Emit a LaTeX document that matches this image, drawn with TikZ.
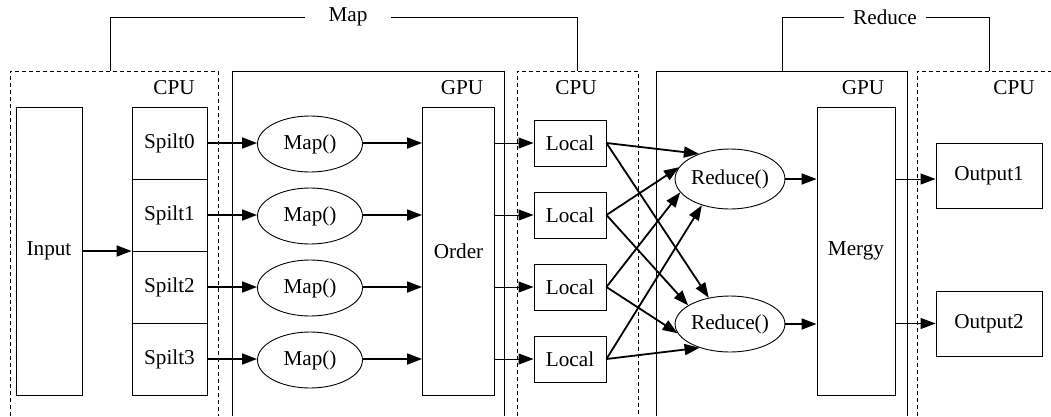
\documentclass[tikz,border=0pt]{standalone}
\usepackage{fontspec}
\setmainfont{Liberation Serif}
\usetikzlibrary{arrows.meta,shapes.geometric}
\begin{document}
\begin{tikzpicture}[x=1pt,y=-1pt,
  every node/.style={font=\fontsize{21.2}{25}\selectfont, inner sep=0pt},
  tallbox/.style={draw, line width=0.9pt, minimum width=#1, minimum height=288pt},
  cell/.style={draw, line width=0.9pt, minimum width=75pt, minimum height=72pt},
  smallbox/.style={draw, line width=0.9pt, minimum width=72pt, minimum height=46pt},
  outbox/.style={draw, line width=0.9pt, minimum width=106pt, minimum height=65pt},
  oval/.style={draw, ellipse, line width=0.9pt, minimum width=#1, minimum height=56pt},
  heavy/.style={line width=1.8pt, -{Triangle[length=15pt,width=11pt]}},
  light/.style={line width=1pt, -{Triangle[length=15pt,width=11pt]}},
  cpuline/.style={line width=0.9pt, dash pattern=on 4pt off 3pt},
  gpuline/.style={line width=0.9pt},
  bracket/.style={line width=0.9pt}
]
\useasboundingbox (0,0) rectangle (1051,416);

% containers
\draw[cpuline] (10,416) |- (218,71) -- (218,416);
\draw[gpuline] (232,416) |- (504,71) -- (504,416);
\draw[cpuline] (517,416) |- (638,71) -- (638,416);
\draw[gpuline] (656,416) |- (907,71) -- (907,416);
\draw[cpuline] (917,416) |- (1052,71);

\node (c1) at (174,88) {CPU};
\node (g1) at (462,88) {GPU};
\node (c2) at (576,88) {CPU};
\node (g2) at (863,88) {GPU};
\node (c3) at (1014,88) {CPU};

% brackets
\node[inner xsep=23pt] (maplbl) at (348,17) {Map};
\node[inner xsep=9pt] (redlbl) at (885,17) {Reduce};
\coordinate (mapA) at (110,71);
\coordinate (mapB) at (577,71);
\coordinate (redA) at (782,71);
\coordinate (redB) at (989,71);
\draw[bracket] (maplbl.west) -| (mapA);
\draw[bracket] (maplbl.east) -| (mapB);
\draw[bracket] (redlbl.west) -| (redA);
\draw[bracket] (redlbl.east) -| (redB);

% nodes
\node[tallbox=66pt] (input) at (49,251) {Input};
\node[cell] (s0) at (169.5,143) {Spilt0};
\node[cell] (s1) at (169.5,215) {Spilt1};
\node[cell] (s2) at (169.5,287) {Spilt2};
\node[cell] (s3) at (169.5,359) {Spilt3};

\node[oval=105pt] (m0) at (310,144) {Map()};
\node[oval=105pt] (m1) at (310,216) {Map()};
\node[oval=105pt] (m2) at (310,288) {Map()};
\node[oval=105pt] (m3) at (310,360) {Map()};

\node[tallbox=72pt] (order) at (458.5,251) {Order};

\node[smallbox] (l0) at (570,143) {Local};
\node[smallbox] (l1) at (570,215) {Local};
\node[smallbox] (l2) at (570,287) {Local};
\node[smallbox] (l3) at (570,359) {Local};

\node[oval=96pt, minimum height=60pt] (r0) at (730,179) {Reduce()};
\node[oval=96pt, minimum height=56pt] (r1) at (730,324) {Reduce()};

\node[tallbox=78pt] (mergy) at (856,251) {Mergy};

\node[outbox] (o1) at (989,176) {Output1};
\node[outbox] (o2) at (989,323.5) {Output2};

% connectors
\draw[heavy] (input.east) -- (input.east -| s0.west);
\foreach \i in {0,1,2,3}{
  \draw[heavy] (s\i.east) -- (s\i.east -| m\i.west);
  \draw[heavy] (m\i.east |- s\i.east) -- (s\i.east -| order.west);
  \draw[light] (l\i.west -| order.east) -- (l\i.west);
}
\draw[heavy] (l0.east) -- (r0.141);
\draw[heavy] (l1.east) -- (r0.167);
\draw[heavy] (l2.east) -- (r0.195);
\draw[heavy] (l3.east) -- (r0.223);
\draw[heavy] (l0.east) -- (r1.129);
\draw[heavy] (l1.east) -- (r1.156);
\draw[heavy] (l2.east) -- (r1.190);
\draw[heavy] (l3.east) -- (r1.218);

\draw[heavy] (r0.east) -- (r0.east -| mergy.west);
\draw[heavy] (r1.east) -- (r1.east -| mergy.west);
\draw[light] (mergy.east |- r0.east) -- (o1.west |- r0.east);
\draw[light] (mergy.east |- o2.west) -- (o2.west);
\end{tikzpicture}
\end{document}
